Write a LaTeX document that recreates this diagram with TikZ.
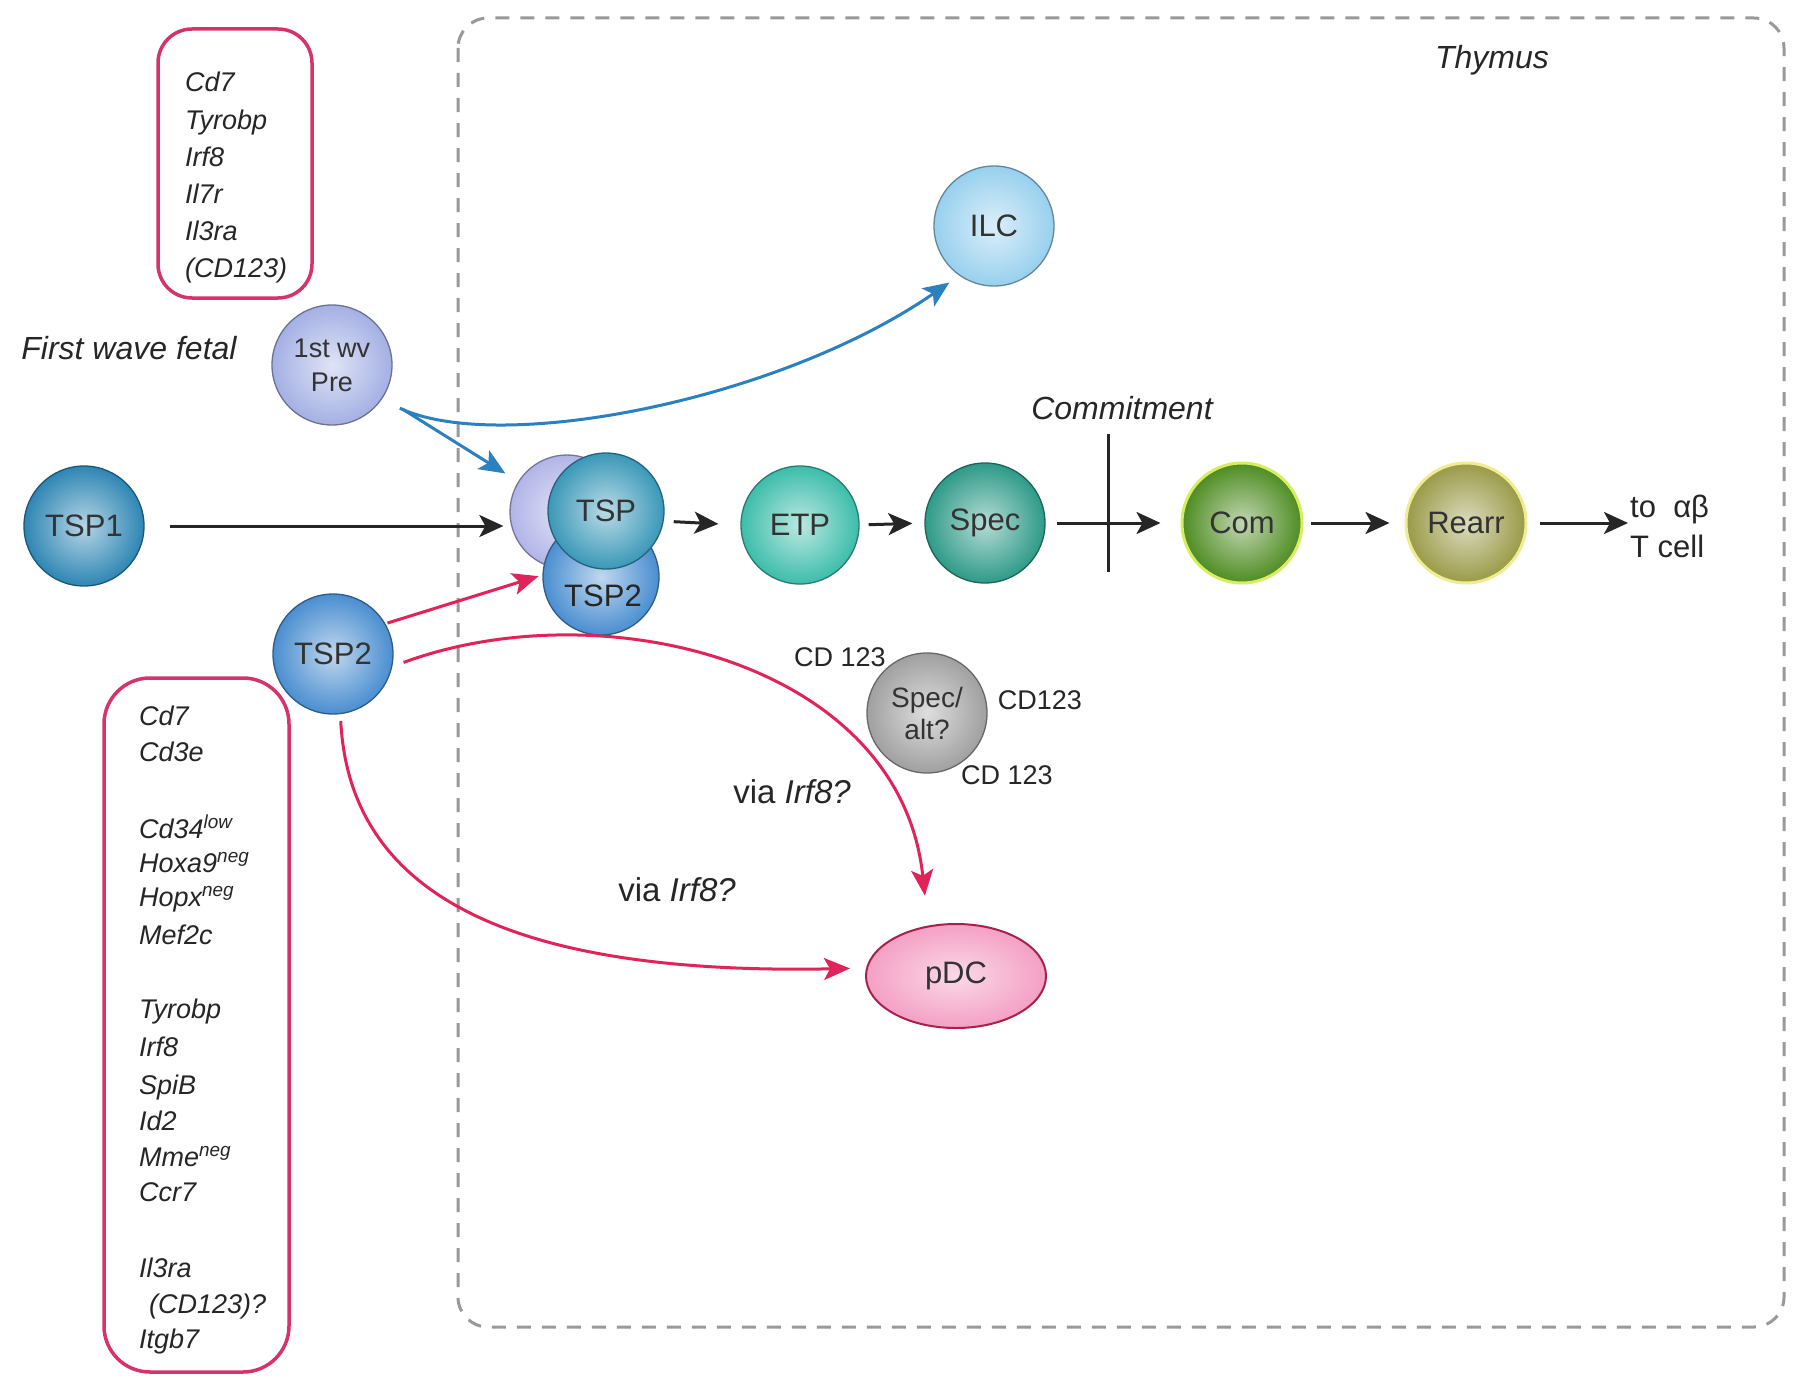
\documentclass[tikz,border=0pt]{standalone}
\usepackage{fontspec}
\setmainfont{Liberation Sans}
\usetikzlibrary{arrows.meta,shapes.geometric}
\definecolor{tsponec}{HTML}{2E86B4}
\definecolor{prec}{HTML}{A4B0E4}
\definecolor{tspc}{HTML}{3A98B8}
\definecolor{tsptwoc}{HTML}{4A8ED0}
\definecolor{lavc}{HTML}{B2B4E8}
\definecolor{etpc}{HTML}{3DBDAA}
\definecolor{specc}{HTML}{2E9A88}
\definecolor{comc}{HTML}{4E8C22}
\definecolor{comglow}{HTML}{D6EE60}
\definecolor{rearrc}{HTML}{9A9A48}
\definecolor{rearrglow}{HTML}{F0EC90}
\definecolor{ilcc}{HTML}{98D0EE}
\definecolor{greyc}{HTML}{A0A0A0}
\definecolor{pdcfill}{HTML}{F4A0C4}
\definecolor{pdcdraw}{HTML}{A8204C}
\definecolor{redarr}{HTML}{E0245A}
\definecolor{bluearr}{HTML}{2B80BF}
\definecolor{boxc}{HTML}{D6336A}
\begin{document}
\begin{tikzpicture}[x=1pt,y=-1pt,
  cell/.style={circle, minimum size=120pt, inner sep=0pt, align=center,
    font=\fontsize{31}{34}\selectfont, text=black!80, line width=1.3pt,
    draw=#1!65!black, inner color=#1!35!white, outer color=#1},
  gene/.style={anchor=base west, inner sep=0pt, font=\fontsize{27}{30}\selectfont\itshape, text=black!85},
  cdlab/.style={inner sep=0pt, font=\fontsize{27}{30}\selectfont, text=black!85},
  genebox/.style={draw=boxc, line width=3.5pt},
  arr/.style={line width=3pt, draw=black!85, -{Stealth[length=24pt,width=22pt,inset=6pt]}},
  bluea/.style={line width=3pt, draw=bluearr, -{Stealth[length=26pt,width=22pt,inset=6pt,fill=bluearr]}},
  reda/.style={line width=3pt, draw=redarr, -{Stealth[length=26pt,width=22pt,inset=6pt,fill=redarr]}},
  bigtext/.style={inner sep=0pt, font=\fontsize{32}{36}\selectfont, text=black!85}
]
\useasboundingbox (0,0) rectangle (1800,1389);
\fill[white] (0,0) rectangle (1800,1389);

% thymus box
\draw[gray!80, line width=3pt, dash pattern=on 14pt off 11pt, rounded corners=30pt]
  (458,18) rectangle (1784,1327);
\node[bigtext, font=\fontsize{32}{36}\selectfont\itshape] (thymus) at (1492,60) {Thymus};

% gene boxes
\draw[genebox, rounded corners=34pt] (158,29) rectangle (312,298);
\draw[genebox, rounded corners=46pt] (104,678) rectangle (289,1372);

\foreach \t/\y [count=\i] in {Cd7/92, Tyrobp/129, Irf8/166, Il7r/203, Il3ra/240, (CD123)/277}
  \node[gene] (ga\i) at (185,\y) {\t};

\foreach \t/\y [count=\i] in {Cd7/725, Cd3e/761, Cd34\textsuperscript{low}/838, Hoxa9\textsuperscript{neg}/872, Hopx\textsuperscript{neg}/906, Mef2c/944, Tyrobp/1018, Irf8/1056, SpiB/1094, Id2/1130, Mme\textsuperscript{neg}/1166, Ccr7/1201, Il3ra/1277}
  \node[gene] (gb\i) at (139,\y) {\t};
\node[gene] (gb14) at (149,1313) {(CD123)?};
\node[gene] (gb15) at (139,1348) {Itgb7};

% labels
\node[bigtext, font=\fontsize{32}{36}\selectfont\itshape] (fwf) at (129,348) {First wave fetal};
\node[bigtext, font=\fontsize{32}{36}\selectfont\itshape] (commit) at (1122,408) {Commitment};

% cells
\node[cell=tsponec] (tsp1) at (84,526) {TSP1};
\node[cell=prec, font=\fontsize{27}{34}\selectfont] (pre) at (332,365) {1st wv\\Pre};
\node[cell=tsptwoc] (tsp2a) at (333,654) {TSP2};
\node[cell=lavc, minimum size=114pt] (lav) at (567,512) {};
\node[cell=tsptwoc, minimum size=116pt] (tsp2b) at (601,577) {};
\node[bigtext, font=\fontsize{31}{34}\selectfont] (tsp2lbl) at (603,596) {TSP2};
\node[cell=tspc, minimum size=116pt] (tsp) at (606,511) {TSP};
\node[cell=etpc, minimum size=118pt] (etp) at (800,525) {ETP};
\node[cell=specc] (spec) at (985,523) {Spec};
\node[cell=comc, draw=comglow, line width=3pt] (com) at (1242,523) {Com};
\node[cell=rearrc, draw=rearrglow, line width=3pt] (rearr) at (1466,523) {Rearr};
\node[cell=ilcc] (ilc) at (994,226) {ILC};
\node[cell=greyc, font=\fontsize{28}{32}\selectfont] (alt) at (927,713) {Spec/\\alt?};
\node[ellipse, minimum width=180pt, minimum height=104pt, inner sep=0pt, line width=2pt,
  draw=pdcdraw, inner color=pdcfill!40!white, outer color=pdcfill,
  font=\fontsize{31}{34}\selectfont, text=black!80] (pdc) at (956,976) {pDC};

\node[bigtext, align=left, anchor=west, font=\fontsize{31}{40}\selectfont] (tcell) at (1630,526) {to\ \ αβ\\T cell};

\node[cdlab] (cda) at (840,657) {CD 123};
\node[cdlab] (cdb) at (1040,700) {CD123};
\node[cdlab] (cdc) at (1007,775) {CD 123};

\node[bigtext, font=\fontsize{33}{36}\selectfont] (via1) at (792,792) {via \textit{Irf8?}};
\node[bigtext, font=\fontsize{33}{36}\selectfont] (via2) at (677,890) {via \textit{Irf8?}};

% commitment bar
\coordinate (cbt) at (1108,434);
\coordinate (cbb) at (1108,572);
\draw[line width=3pt, black!85] (cbt) -- (cbb);

% main arrows
\draw[arr, shorten <=25pt, shorten >=6pt] (tsp1.east) -- (lav.west |- tsp1.east);
\draw[arr, shorten <=10pt, shorten >=22pt] (tsp.-10) -- (etp.west);
\draw[arr, shorten <=9pt, shorten >=12pt] (etp.east) -- (spec.west);
\draw[arr, shorten <=11pt, shorten >=20pt] (spec.east) -- (com.west);
\draw[arr, shorten <=7pt, shorten >=15pt] (com.east) -- (rearr.west);
\draw[arr, shorten <=12pt, shorten >=2pt] (rearr.east) -- (tcell.west |- rearr.east);

% blue arrows
\draw[bluea, shorten <=22pt, shorten >=15pt] (pre) -- (lav);
\draw[bluea, shorten <=20pt, shorten >=12pt] (pre.-35) .. controls (500,455) and (780,400) .. (ilc.235);

% red arrows
\draw[reda, shorten <=2pt, shorten >=4pt] (tsp2a.30) -- (tsp2b.178);
\draw[reda, shorten <=12pt, shorten >=30pt] (tsp2a.-12) .. controls (600,590) and (900,660) .. (pdc.119);
\draw[reda, shorten <=7pt, shorten >=16pt] (tsp2a.-83) .. controls (350,900) and (520,975) .. (pdc.175);
\end{tikzpicture}
\end{document}
